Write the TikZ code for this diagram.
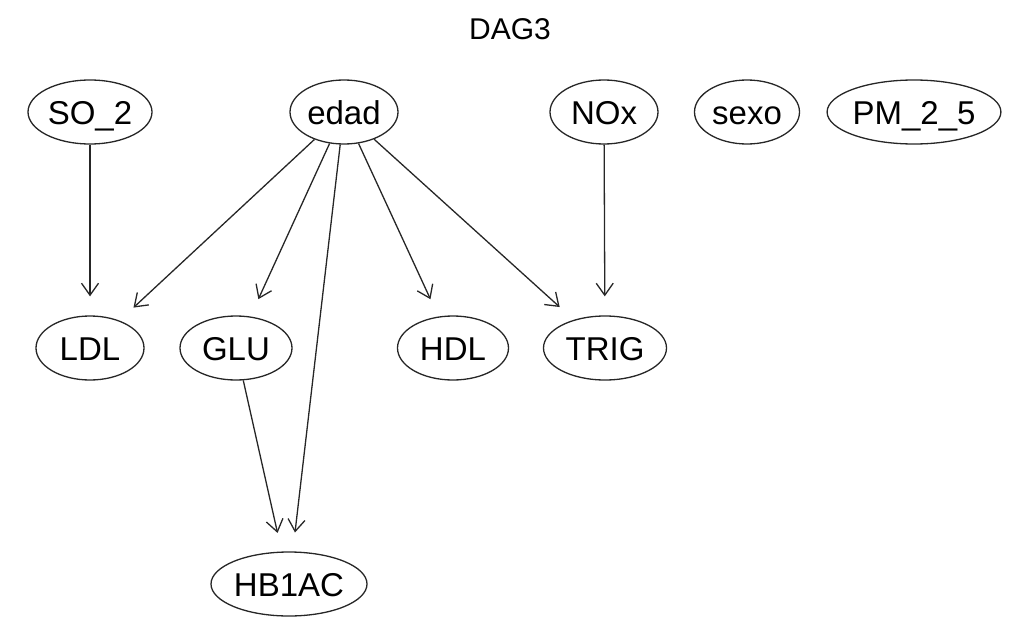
\documentclass[tikz,border=0pt]{standalone}
\usepackage{fontspec}
\setmainfont{Liberation Sans}
\usetikzlibrary{shapes.geometric,arrows.meta}
\begin{document}
\begin{tikzpicture}[x=1pt,y=-1pt,
  var/.style={draw=black!85, line width=1.3pt, ellipse, inner sep=0pt,
    minimum height=64pt, text height=24pt, text depth=0pt,
    font=\fontsize{33}{40}\selectfont},
  edge/.style={draw=black!85, line width=1.3pt, shorten >=19pt,
    -{Straight Barb[length=12pt,width=17pt,line width=1.3pt]}}]
\useasboundingbox (0,0) rectangle (1020,634);
\node[anchor=base, font=\fontsize{30}{36}\selectfont] (title) at (510,40) {DAG3};
\node[var, minimum width=124pt] (SO2) at (90,112) {SO\_2};
\node[var, minimum width=108pt] (edad) at (344,112) {edad};
\node[var, minimum width=108pt] (NOx) at (604,112) {NOx};
\node[var, minimum width=105pt] (sexo) at (747,112) {sexo};
\node[var, minimum width=164pt] (PM) at (914,112) {PM\_2\_5};
\node[var, minimum width=108pt] (LDL) at (90,348) {LDL};
\node[var, minimum width=112pt] (GLU) at (236,348) {GLU};
\node[var, minimum width=111pt] (HDL) at (453,348) {HDL};
\node[var, minimum width=123pt] (TRIG) at (605,348) {TRIG};
\node[var, minimum width=156pt] (HB) at (289,584) {HB1AC};
\draw[edge] (SO2) -- (LDL);
\draw[edge] (edad) -- (LDL);
\draw[edge] (edad) -- (GLU);
\draw[edge] (edad) -- (HB);
\draw[edge] (edad) -- (HDL);
\draw[edge] (edad) -- (TRIG);
\draw[edge] (NOx) -- (TRIG);
\draw[edge] (GLU) -- (HB);
\end{tikzpicture}
\end{document}
